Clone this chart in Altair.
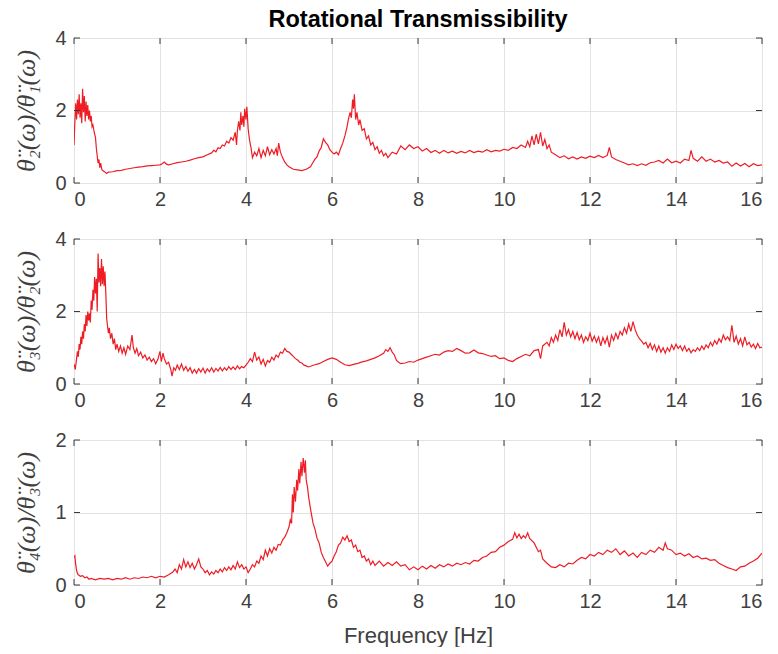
import altair as alt
import pandas as pd

# ---- data (frequency [Hz], ratio) ----
p1 = [(0.00,1.05),(0.02,1.70),(0.04,2.20),(0.06,1.75),(0.08,2.30),(0.10,1.90),(0.12,2.45),(0.14,1.80),
      (0.16,2.20),(0.18,1.65),(0.20,2.60),(0.22,1.95),(0.24,2.40),(0.26,1.70),(0.28,2.25),(0.30,1.85),
      (0.32,2.15),(0.34,1.75),(0.36,2.00),(0.38,1.70),(0.40,1.85),(0.42,1.55),(0.44,1.60),(0.47,1.40),
      (0.50,1.25),(0.52,0.95),(0.54,0.75),(0.56,0.55),(0.58,0.65),(0.60,0.42),(0.62,0.55),(0.65,0.36),
      (0.70,0.32),(0.76,0.26),(0.80,0.30),(0.90,0.31),(1.00,0.34),(1.10,0.35),(1.20,0.38),(1.30,0.40),
      (1.40,0.42),(1.50,0.44),(1.60,0.45),(1.70,0.47),(1.80,0.48),(1.90,0.49),(2.00,0.50),(2.05,0.53),
      (2.10,0.58),(2.15,0.52),(2.20,0.50),(2.30,0.53),(2.40,0.56),(2.50,0.58),(2.60,0.60),(2.70,0.63),
      (2.80,0.67),(2.90,0.70),(3.00,0.72),(3.10,0.78),(3.20,0.83),(3.25,0.90),(3.30,0.86),(3.35,0.97),
      (3.40,0.95),(3.45,1.05),(3.50,1.02),(3.55,1.15),(3.60,1.10),(3.65,1.25),(3.70,1.18),(3.75,1.40),
      (3.78,1.05),(3.80,1.45),(3.83,1.70),(3.86,1.45),(3.88,1.95),(3.90,1.60),(3.93,1.85),(3.95,1.55),
      (3.97,2.05),(4.00,1.75),(4.02,2.10),(4.05,1.50),(4.08,1.20),(4.12,0.95),(4.15,0.70),(4.20,0.85),
      (4.25,0.75),(4.30,0.95),(4.35,0.70),(4.40,0.90),(4.45,0.75),(4.50,1.00),(4.55,0.78),(4.60,0.92),
      (4.65,0.80),(4.70,0.95),(4.73,0.75),(4.76,1.10),(4.80,0.85),(4.85,0.70),(4.90,0.58),(4.95,0.50),
      (5.00,0.45),(5.10,0.38),(5.20,0.36),(5.30,0.34),(5.40,0.38),(5.50,0.45),(5.55,0.55),(5.60,0.65),
      (5.65,0.72),(5.70,0.88),(5.75,0.98),(5.80,1.22),(5.85,1.12),(5.90,1.05),(5.95,0.92),(6.00,0.85),
      (6.05,0.80),(6.10,0.85),(6.15,0.78),(6.20,0.95),(6.25,1.10),(6.30,1.30),(6.35,1.55),(6.38,1.75),
      (6.42,1.95),(6.45,1.80),(6.48,2.30),(6.50,2.05),(6.52,2.45),(6.55,1.75),(6.58,1.95),(6.62,1.60),
      (6.65,1.75),(6.70,1.45),(6.75,1.50),(6.80,1.22),(6.85,1.30),(6.90,1.05),(6.95,1.12),(7.00,0.92),
      (7.05,1.00),(7.10,0.82),(7.15,0.90),(7.20,0.75),(7.25,0.82),(7.30,0.70),(7.40,0.85),(7.50,0.80),
      (7.60,1.02),(7.70,0.92),(7.80,1.05),(7.90,0.95),(8.00,1.00),(8.10,0.88),(8.20,0.95),(8.30,0.84),
      (8.40,0.90),(8.50,0.82),(8.60,0.90),(8.70,0.83),(8.80,0.88),(8.90,0.82),(9.00,0.87),(9.10,0.83),
      (9.20,0.90),(9.30,0.84),(9.40,0.88),(9.50,0.85),(9.60,0.92),(9.70,0.86),(9.80,0.90),(9.90,0.88),
      (10.00,0.93),(10.10,0.90),(10.20,0.98),(10.30,0.95),(10.40,1.05),(10.50,0.98),(10.55,1.15),(10.60,1.00),
      (10.65,1.30),(10.70,1.05),(10.75,1.35),(10.80,1.08),(10.85,1.40),(10.90,1.02),(10.95,1.20),(11.00,0.95),
      (11.05,1.05),(11.10,0.85),(11.20,0.78),(11.30,0.70),(11.40,0.75),(11.50,0.67),(11.60,0.72),(11.70,0.66),
      (11.80,0.72),(11.90,0.68),(12.00,0.74),(12.10,0.70),(12.20,0.76),(12.30,0.70),(12.40,0.76),(12.45,0.98),
      (12.50,0.72),(12.60,0.65),(12.70,0.60),(12.80,0.55),(12.90,0.50),(13.00,0.53),(13.10,0.48),(13.20,0.53),
      (13.30,0.49),(13.40,0.56),(13.50,0.58),(13.60,0.62),(13.70,0.55),(13.80,0.66),(13.90,0.56),(14.00,0.60),
      (14.10,0.55),(14.20,0.66),(14.30,0.62),(14.35,0.90),(14.40,0.68),(14.50,0.60),(14.60,0.72),(14.70,0.60),
      (14.80,0.66),(14.90,0.58),(15.00,0.62),(15.10,0.55),(15.20,0.58),(15.30,0.46),(15.40,0.55),(15.50,0.47),
      (15.60,0.54),(15.70,0.45),(15.80,0.53),(15.90,0.48),(16.00,0.50)]

p2 = [(0.00,0.55),(0.03,0.40),(0.06,0.70),(0.08,0.90),(0.10,0.75),(0.12,1.10),(0.14,0.95),(0.16,1.30),
      (0.18,1.10),(0.20,1.45),(0.22,1.25),(0.24,1.65),(0.26,1.45),(0.28,1.90),(0.30,1.60),(0.32,2.00),
      (0.34,1.75),(0.36,1.95),(0.38,1.70),(0.40,2.30),(0.42,2.05),(0.44,2.60),(0.46,2.30),(0.48,2.95),
      (0.50,2.50),(0.52,2.90),(0.54,2.00),(0.56,3.60),(0.58,2.80),(0.60,3.20),(0.62,2.70),(0.64,3.45),
      (0.66,2.75),(0.68,3.25),(0.70,2.70),(0.72,3.10),(0.74,2.50),(0.76,1.80),(0.78,1.60),(0.80,1.40),
      (0.82,1.55),(0.85,1.25),(0.88,1.40),(0.91,1.10),(0.94,1.25),(0.97,0.95),(1.00,1.10),(1.04,0.90),
      (1.08,1.05),(1.12,0.85),(1.16,1.00),(1.20,0.82),(1.25,1.05),(1.30,0.95),(1.35,1.35),(1.38,1.00),
      (1.42,0.85),(1.46,0.98),(1.50,0.78),(1.55,0.88),(1.60,0.72),(1.65,0.80),(1.70,0.66),(1.75,0.74),
      (1.80,0.62),(1.85,0.70),(1.90,0.56),(1.95,0.68),(2.00,0.90),(2.03,0.62),(2.07,0.85),(2.10,0.70),
      (2.15,0.55),(2.20,0.60),(2.25,0.40),(2.28,0.22),(2.32,0.45),(2.36,0.38),(2.40,0.52),(2.45,0.40),
      (2.50,0.55),(2.55,0.38),(2.60,0.48),(2.65,0.35),(2.70,0.45),(2.75,0.30),(2.80,0.40),(2.85,0.30),
      (2.90,0.42),(2.95,0.33),(3.00,0.44),(3.05,0.30),(3.10,0.42),(3.15,0.34),(3.20,0.45),(3.25,0.33),
      (3.30,0.43),(3.35,0.36),(3.40,0.46),(3.45,0.36),(3.50,0.45),(3.55,0.38),(3.60,0.48),(3.65,0.40),
      (3.70,0.47),(3.75,0.40),(3.80,0.50),(3.85,0.42),(3.90,0.48),(3.95,0.45),(4.00,0.52),(4.05,0.60),
      (4.10,0.70),(4.15,0.62),(4.20,0.88),(4.25,0.66),(4.30,0.75),(4.35,0.55),(4.40,0.68),(4.45,0.50),
      (4.50,0.65),(4.55,0.60),(4.60,0.74),(4.65,0.66),(4.70,0.80),(4.75,0.74),(4.80,0.88),(4.85,0.85),
      (4.90,0.98),(4.95,0.90),(5.00,0.88),(5.05,0.82),(5.10,0.76),(5.15,0.70),(5.20,0.66),(5.25,0.60),
      (5.30,0.58),(5.35,0.52),(5.40,0.50),(5.45,0.47),(5.50,0.49),(5.60,0.53),(5.70,0.56),(5.80,0.62),
      (5.90,0.68),(6.00,0.72),(6.10,0.68),(6.20,0.60),(6.30,0.53),(6.40,0.51),(6.50,0.54),(6.60,0.57),
      (6.70,0.61),(6.80,0.64),(6.90,0.68),(7.00,0.72),(7.10,0.78),(7.20,0.85),(7.25,0.95),(7.30,0.90),
      (7.35,1.00),(7.40,0.88),(7.45,0.80),(7.50,0.65),(7.55,0.60),(7.60,0.56),(7.70,0.58),(7.80,0.62),
      (7.90,0.60),(8.00,0.66),(8.10,0.70),(8.20,0.74),(8.30,0.78),(8.40,0.82),(8.50,0.80),(8.60,0.88),
      (8.70,0.92),(8.80,0.90),(8.90,0.98),(9.00,0.92),(9.10,0.85),(9.20,0.86),(9.30,0.94),(9.40,0.86),
      (9.50,0.84),(9.60,0.80),(9.70,0.76),(9.80,0.78),(9.90,0.70),(10.00,0.72),(10.10,0.65),(10.20,0.62),
      (10.30,0.70),(10.40,0.76),(10.50,0.82),(10.60,0.78),(10.70,0.92),(10.80,0.95),(10.85,0.70),(10.90,1.05),
      (11.00,1.15),(11.05,1.05),(11.10,1.28),(11.15,1.15),(11.20,1.35),(11.25,1.20),(11.30,1.50),(11.35,1.30),
      (11.40,1.70),(11.45,1.35),(11.50,1.50),(11.55,1.30),(11.60,1.45),(11.65,1.25),(11.70,1.42),(11.75,1.22),
      (11.80,1.35),(11.85,1.15),(11.90,1.30),(11.95,1.20),(12.00,1.40),(12.05,1.18),(12.10,1.32),(12.15,1.15),
      (12.20,1.30),(12.25,1.05),(12.30,1.28),(12.35,1.12),(12.40,1.30),(12.45,1.02),(12.50,1.35),(12.55,1.20),
      (12.60,1.40),(12.65,1.25),(12.70,1.45),(12.75,1.35),(12.80,1.55),(12.85,1.40),(12.90,1.65),(12.95,1.45),
      (13.00,1.72),(13.05,1.50),(13.10,1.35),(13.15,1.25),(13.20,1.18),(13.25,1.10),(13.30,1.15),(13.35,1.00),
      (13.40,1.12),(13.45,0.95),(13.50,1.08),(13.55,0.90),(13.60,1.05),(13.65,0.88),(13.70,1.00),(13.75,0.85),
      (13.80,1.00),(13.85,0.90),(13.90,1.08),(13.95,0.95),(14.00,1.10),(14.05,0.98),(14.10,1.05),(14.15,0.92),
      (14.20,1.05),(14.25,0.90),(14.30,0.98),(14.35,0.86),(14.40,0.95),(14.45,0.90),(14.50,1.00),(14.55,0.92),
      (14.60,1.05),(14.65,0.95),(14.70,1.08),(14.75,1.00),(14.80,1.15),(14.85,1.05),(14.90,1.20),(14.95,1.10),
      (15.00,1.25),(15.05,1.15),(15.10,1.35),(15.15,1.22),(15.20,1.30),(15.25,1.20),(15.30,1.62),(15.35,1.15),
      (15.40,1.32),(15.45,1.10),(15.50,1.25),(15.55,1.05),(15.60,1.30),(15.65,1.08),(15.70,1.15),(15.75,1.02),
      (15.80,1.10),(15.85,0.98),(15.90,1.12),(15.95,1.00),(16.00,1.02)]

p3 = [(0.00,0.38),(0.02,0.40),(0.04,0.28),(0.06,0.20),(0.08,0.16),(0.10,0.14),(0.15,0.12),(0.20,0.13),
      (0.25,0.10),(0.30,0.11),(0.35,0.08),(0.40,0.09),(0.50,0.07),(0.60,0.09),(0.70,0.08),(0.80,0.09),
      (0.90,0.07),(1.00,0.09),(1.10,0.08),(1.20,0.10),(1.30,0.08),(1.40,0.10),(1.50,0.09),(1.60,0.11),
      (1.70,0.10),(1.80,0.12),(1.90,0.10),(2.00,0.12),(2.10,0.11),(2.20,0.14),(2.30,0.18),(2.35,0.22),
      (2.40,0.17),(2.45,0.28),(2.50,0.22),(2.55,0.35),(2.60,0.25),(2.65,0.32),(2.70,0.24),(2.75,0.30),
      (2.80,0.22),(2.85,0.28),(2.90,0.36),(2.95,0.25),(3.00,0.22),(3.05,0.17),(3.10,0.20),(3.15,0.14),
      (3.20,0.18),(3.25,0.15),(3.30,0.20),(3.35,0.17),(3.40,0.22),(3.45,0.18),(3.50,0.24),(3.55,0.20),
      (3.60,0.25),(3.65,0.21),(3.70,0.27),(3.75,0.22),(3.80,0.32),(3.85,0.24),(3.90,0.28),(3.95,0.22),
      (4.00,0.25),(4.05,0.17),(4.10,0.22),(4.15,0.28),(4.20,0.25),(4.25,0.33),(4.30,0.30),(4.35,0.40),
      (4.40,0.35),(4.45,0.48),(4.50,0.40),(4.55,0.50),(4.60,0.44),(4.65,0.52),(4.70,0.48),(4.75,0.56),
      (4.80,0.55),(4.85,0.62),(4.90,0.66),(4.95,0.72),(5.00,0.80),(5.03,0.90),(5.06,0.85),(5.08,1.25),
      (5.10,1.00),(5.12,1.35),(5.15,1.15),(5.18,1.45),(5.20,1.30),(5.23,1.60),(5.25,1.40),(5.28,1.70),
      (5.30,1.50),(5.33,1.75),(5.36,1.55),(5.38,1.72),(5.40,1.45),(5.43,1.35),(5.46,1.20),(5.50,1.05),
      (5.53,0.95),(5.56,0.85),(5.60,0.78),(5.65,0.65),(5.70,0.58),(5.75,0.45),(5.80,0.38),(5.85,0.32),
      (5.90,0.26),(5.95,0.30),(6.00,0.33),(6.05,0.40),(6.10,0.46),(6.15,0.55),(6.20,0.58),(6.25,0.66),
      (6.30,0.62),(6.35,0.68),(6.40,0.60),(6.45,0.62),(6.50,0.52),(6.55,0.55),(6.60,0.46),(6.65,0.48),
      (6.70,0.38),(6.75,0.40),(6.80,0.33),(6.85,0.36),(6.90,0.28),(6.95,0.33),(7.00,0.27),(7.10,0.33),
      (7.20,0.26),(7.30,0.31),(7.40,0.27),(7.50,0.32),(7.60,0.26),(7.70,0.28),(7.80,0.21),(7.90,0.25),
      (8.00,0.21),(8.10,0.26),(8.20,0.22),(8.30,0.27),(8.40,0.23),(8.50,0.28),(8.60,0.25),(8.70,0.29),
      (8.80,0.26),(8.90,0.30),(9.00,0.28),(9.10,0.31),(9.20,0.29),(9.30,0.34),(9.40,0.33),(9.50,0.38),
      (9.60,0.40),(9.70,0.45),(9.80,0.46),(9.90,0.52),(10.00,0.55),(10.10,0.60),(10.20,0.63),(10.25,0.72),
      (10.30,0.65),(10.35,0.70),(10.40,0.64),(10.45,0.68),(10.50,0.65),(10.55,0.72),(10.60,0.64),(10.70,0.58),
      (10.80,0.46),(10.85,0.48),(10.90,0.36),(11.00,0.30),(11.10,0.25),(11.20,0.24),(11.30,0.28),(11.40,0.25),
      (11.50,0.30),(11.60,0.29),(11.70,0.34),(11.80,0.38),(11.90,0.36),(12.00,0.42),(12.10,0.40),(12.20,0.45),
      (12.30,0.42),(12.40,0.48),(12.50,0.45),(12.60,0.50),(12.70,0.42),(12.80,0.47),(12.90,0.40),(13.00,0.44),
      (13.10,0.38),(13.20,0.45),(13.30,0.42),(13.40,0.48),(13.50,0.45),(13.60,0.52),(13.70,0.48),(13.75,0.58),
      (13.80,0.50),(13.90,0.48),(14.00,0.42),(14.10,0.44),(14.20,0.40),(14.30,0.43),(14.40,0.38),(14.50,0.40),
      (14.60,0.36),(14.70,0.37),(14.80,0.34),(14.90,0.35),(15.00,0.30),(15.10,0.27),(15.20,0.24),(15.30,0.22),
      (15.40,0.20),(15.50,0.25),(15.60,0.26),(15.70,0.30),(15.80,0.33),(15.90,0.37),(16.00,0.44)]

x_ticks = [0, 2, 4, 6, 8, 10, 12, 14, 16]
y_ticks_12 = [0, 2, 4]
y_ticks_3 = [0, 1, 2]

labels = ["θ̈₂(ω)/θ̈₁(ω)", "θ̈₃(ω)/θ̈₂(ω)", "θ̈₄(ω)/θ̈₃(ω)"]
title_text = "Rotational Transmissibility"
xlabel = "Frequency [Hz]"

W, H = 688, 145
RED = "#EE1C25"
DARK = "#404040"
FRAME = "#3a3a3a"
TICK_LEN = 6


def panel(points, ymax, yticks, ylabel, show_xtitle=False, title=None):
    df = pd.DataFrame(points, columns=["f", "v"])
    xs = alt.Scale(domain=[0, 16], nice=False, zero=False)
    ys = alt.Scale(domain=[0, ymax], nice=False)
    xaxis = alt.Axis(values=x_ticks, tickCount=20, tickMinStep=0.1, format=".0f",
                     grid=True, gridColor="#E3E3E3",
                     domain=False, ticks=False, labelFontSize=20, labelColor=DARK,
                     labelFont="Liberation Sans", labelPadding=6, labelOverlap=False,
                     title=xlabel if show_xtitle else None, titleFontSize=22,
                     titleFont="Liberation Sans", titleFontWeight="normal",
                     titleColor=DARK, titlePadding=14)
    yaxis = alt.Axis(values=yticks, tickCount=10, tickMinStep=0.1, format=".0f",
                     grid=True, gridColor="#E3E3E3",
                     domain=False, ticks=False, labelFontSize=20, labelColor=DARK,
                     labelFont="Liberation Sans", labelPadding=8, labelOverlap=False,
                     labelBound=False,
                     title=ylabel, titleFontSize=26, titleFont="Liberation Serif",
                     titleFontStyle="italic", titleFontWeight="normal",
                     titleColor=DARK, titlePadding=15)
    line = alt.Chart(df).mark_line(color=RED, strokeWidth=1.2, clip=True).encode(
        x=alt.X("f:Q", scale=xs, axis=xaxis),
        y=alt.Y("v:Q", scale=ys, axis=yaxis),
    )
    xt = pd.DataFrame({"f": x_ticks})
    yt = pd.DataFrame({"v": yticks})
    tb = alt.Chart(xt).mark_rule(color=FRAME, strokeWidth=1).encode(
        x="f:Q", y=alt.value(H), y2=alt.value(H - TICK_LEN))
    tt = alt.Chart(xt).mark_rule(color=FRAME, strokeWidth=1).encode(
        x="f:Q", y=alt.value(0), y2=alt.value(TICK_LEN))
    tl = alt.Chart(yt).mark_rule(color=FRAME, strokeWidth=1).encode(
        y="v:Q", x=alt.value(0), x2=alt.value(TICK_LEN))
    tr = alt.Chart(yt).mark_rule(color=FRAME, strokeWidth=1).encode(
        y="v:Q", x=alt.value(W), x2=alt.value(W - TICK_LEN))
    props = dict(width=W, height=H)
    if title:
        props["title"] = alt.TitleParams(title, fontSize=23.5, fontWeight="bold",
                                         font="Liberation Sans", color="#000000",
                                         anchor="middle", offset=-3)
    return alt.layer(line, tb, tt, tl, tr).properties(**props)


c1 = panel(p1, 4, y_ticks_12, labels[0], title=title_text)
c2 = panel(p2, 4, y_ticks_12, labels[1])
c3 = panel(p3, 2, y_ticks_3, labels[2], show_xtitle=True)

chart = alt.vconcat(c1, c2, c3, spacing=56, bounds="flush").properties(
    padding={"left": 13, "top": 7, "right": 0, "bottom": 0}
).configure_view(stroke=FRAME, strokeWidth=1.2).configure(background="white")

chart.save("out.html", embed_options={"renderer": "svg", "actions": False})
